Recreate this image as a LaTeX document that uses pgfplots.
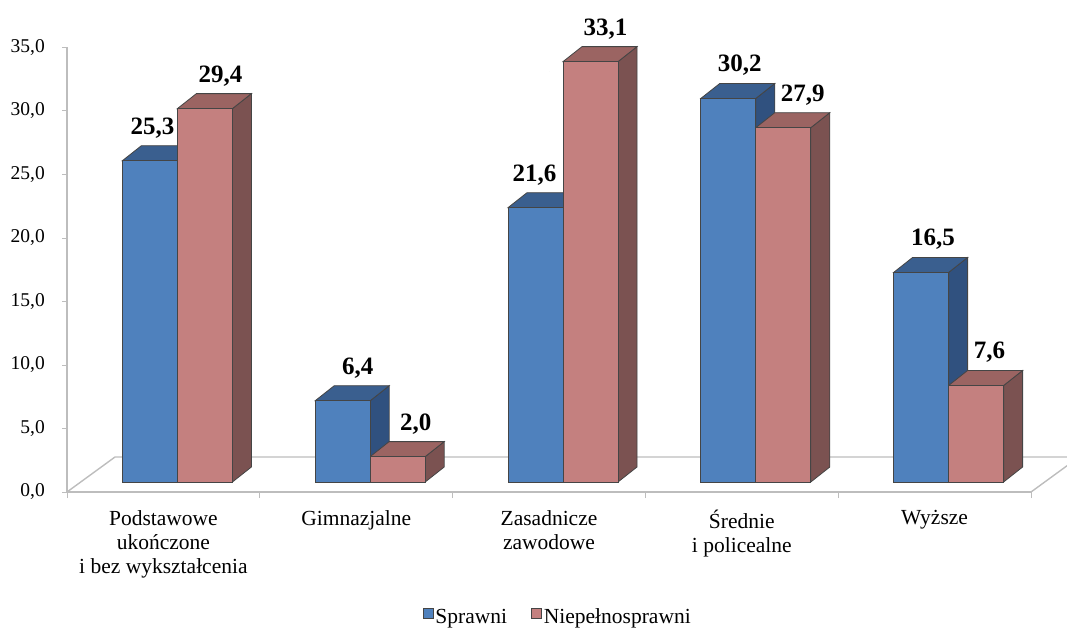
\documentclass[border=0pt]{standalone}
\usepackage{pgfplots}
\pgfplotsset{compat=1.18}
\usepackage{pgfplotstable}
\usepackage{fontspec}
\setmainfont{Liberation Serif}

\definecolor{bFront}{HTML}{4F81BD}
\definecolor{bTop}{HTML}{3A5F8F}
\definecolor{bSide}{HTML}{30517F}
\definecolor{rFront}{HTML}{C4807F}
\definecolor{rTop}{HTML}{9B6462}
\definecolor{rSide}{HTML}{7B5251}
\definecolor{edge}{HTML}{454545}
\definecolor{floorc}{HTML}{BDBDBD}

% x = category index, y = value, lx = horizontal offset of the value label (pt)
\pgfplotstableread{
x y lx
0 25.3 2.5
1 6.4 15
2 21.6 -1
3 30.2 11.5
4 16.5 12
}\sprawni
\pgfplotstableread{
x y lx
0 29.4 15.5
1 2.0 18
2 33.1 15
3 27.9 19.5
4 7.6 13.5
}\niepel

\begin{document}
\begin{tikzpicture}
\useasboundingbox (0pt,0pt) rectangle (1067pt,-628pt);
\begin{axis}[
  at={(67pt,-492pt)}, anchor=south west,
  x=192.8pt, y=12.7pt,
  xmin=-0.5, xmax=4.5, ymin=0, ymax=35,
  clip=false,
  clip marker paths=true,
  axis lines*=left,
  axis line style={draw=floorc, line width=1.4pt},
  tick align=outside,
  major tick length=5pt,
  minor tick length=6pt,
  tick style={draw=floorc, line width=1pt},
  ytick={0,5,...,35},
  scaled y ticks=false,
  /pgf/number format/assume math mode=true,
  yticklabel style={font=\fontsize{19.5}{22}\selectfont, anchor=east, inner sep=0pt, xshift=-17pt,
    /pgf/number format/.cd, fixed, fixed zerofill, precision=1, use comma},
  xtick={0,1,2,3,4},
  minor xtick={-0.5,0.5,1.5,2.5,3.5,4.5},
  major x tick style={draw=none},
  xticklabels={{Podstawowe\\ukończone\\i bez wykształcenia},{Gimnazjalne},{Zasadnicze\\zawodowe},{Średnie\\i policealne},{Wyższe}},
  xticklabel style={font=\fontsize{21.5}{24}\selectfont, align=center, anchor=north, inner sep=0pt, yshift=-13pt},
  legend image code/.code={\draw[#1, line width=0.8pt] (0pt,-1pt) rectangle (10pt,9pt);},
  legend style={at={(0.509,-0.281)}, anchor=center, draw=none, fill=none,
    font=\fontsize{21.5}{24}\selectfont, legend columns=2,
    /tikz/every even column/.append style={column sep=22pt},
    nodes={inner sep=2pt}},
  lbl/.style={draw=none, mark=none,
    visualization depends on={\thisrow{lx} \as \lx},
    nodes near coords={\pgfmathprintnumber[fixed,fixed zerofill,precision=1,use comma,assume math mode=true]{\pgfplotspointmeta}},
    every node near coord/.append style={font=\bfseries\fontsize{25}{28}\selectfont, text=black, anchor=base, yshift=36.5pt, xshift={\lx pt+#1pt}}},
]
% floor of the 3D chart
\draw[draw=floorc, line width=1.4pt] (axis cs:-0.5,0) -- ++(48pt,35pt) -- ++(964pt,0pt) -- ++(-48pt,-35pt);

% top and side faces, Sprawni
\addplot[forget plot, only marks, mark=*, mark size=0pt, mark options={draw=none,fill=none},
  scatter, point meta=y,
  visualization depends on={\thisrow{y} \as \val},
  scatter/@pre marker code/.code={%
    \pgfmathsetmacro\ya{25-12.7*\val}%
    \pgfmathsetmacro\yb{10-12.7*\val}%
    \filldraw[fill=bSide, draw=edge, line width=0.8pt] (14pt,10pt) -- (33pt,25pt) -- (33pt,\ya pt) -- (14pt,\yb pt) -- cycle;
    \filldraw[fill=bTop, draw=edge, line width=0.8pt] (-41pt,10pt) -- (14pt,10pt) -- (33pt,25pt) -- (-22pt,25pt) -- cycle;
  },
  scatter/@post marker code/.code={},
] table[x=x,y=y] {\sprawni};

% top and side faces, Niepelnosprawni
\addplot[forget plot, only marks, mark=*, mark size=0pt, mark options={draw=none,fill=none},
  scatter, point meta=y,
  visualization depends on={\thisrow{y} \as \val},
  scatter/@pre marker code/.code={%
    \pgfmathsetmacro\ya{25-12.7*\val}%
    \pgfmathsetmacro\yb{10-12.7*\val}%
    \filldraw[fill=rSide, draw=edge, line width=0.8pt] (69pt,10pt) -- (88pt,25pt) -- (88pt,\ya pt) -- (69pt,\yb pt) -- cycle;
    \filldraw[fill=rTop, draw=edge, line width=0.8pt] (14pt,10pt) -- (69pt,10pt) -- (88pt,25pt) -- (33pt,25pt) -- cycle;
  },
  scatter/@post marker code/.code={},
] table[x=x,y=y] {\niepel};

% front faces
\addplot[forget plot, ybar, bar width=55pt, bar shift=-13.5pt, yshift=10pt,
  fill=bFront, draw=edge, line width=0.8pt] table[x=x,y=y] {\sprawni};
\addplot[forget plot, ybar, bar width=55pt, bar shift=41.5pt, yshift=10pt,
  fill=rFront, draw=edge, line width=0.8pt] table[x=x,y=y] {\niepel};

% value labels
\addplot[forget plot, lbl=-13.5] table[x=x,y=y] {\sprawni};
\addplot[forget plot, lbl=41.5] table[x=x,y=y] {\niepel};

\addlegendimage{fill=bFront, draw=edge}
\addlegendentry{Sprawni}
\addlegendimage{fill=rFront, draw=edge}
\addlegendentry{Niepełnosprawni}
\end{axis}
\end{tikzpicture}
\end{document}
